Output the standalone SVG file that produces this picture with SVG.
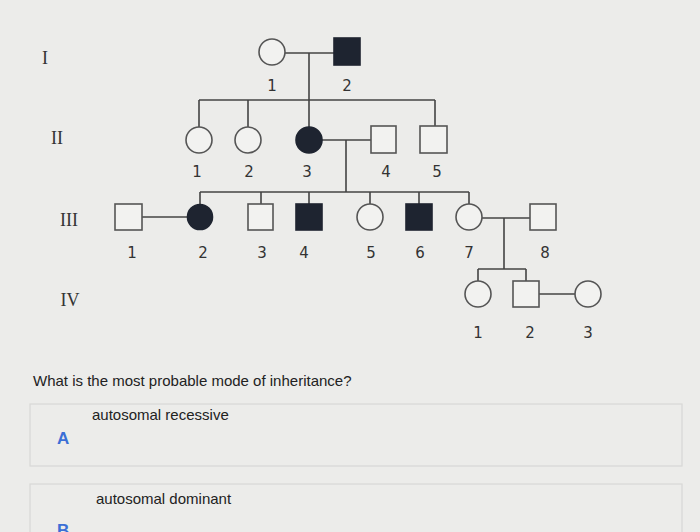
<svg xmlns="http://www.w3.org/2000/svg" width="700" height="532" viewBox="0 0 700 532">
<style>
.ln{stroke:#444;stroke-width:1.6;fill:none}
.o{fill:#f2f2f0;stroke:#555;stroke-width:1.6}
.f{fill:#1e2430;stroke:#1e2430;stroke-width:1.6}
.n{font-family:"DejaVu Sans",sans-serif;font-size:15px;fill:#333;text-anchor:middle}
.r{font-family:"Liberation Serif",serif;font-size:18px;fill:#333;text-anchor:middle}
.q{font-family:"Liberation Sans",sans-serif;font-size:15px;fill:#222}
.opt{fill:none;stroke:#d8d8d6;stroke-width:1.2}
</style>
<rect width="700" height="532" fill="#ececea"/>
<text class="r" x="45" y="64">I</text>
<text class="r" x="57" y="144">II</text>
<text class="r" x="69" y="226">III</text>
<text class="r" x="70" y="306">IV</text>
<g id="connectors" class="ln">
<path d="M285 53H334M309 53V127M199 100H435M199 100V127M248 100V127M435 100V126"/>
<path d="M322 140H371M346 140V192M200 192H469M200 192V204M261 192V204M309 192V204M370 192V204M419 192V204M469 192V204"/>
<path d="M142 217H187M482 218H530M504 218V269M478 269H526M478 269V281M526 269V281M539 294H575"/>
</g>
<g id="I1"><circle class="o" cx="272" cy="52" r="13"/><text class="n" x="272" y="91">1</text></g>
<g id="I2"><rect class="f" x="334" y="38" width="26" height="27"/><text class="n" x="347" y="91">2</text></g>
<g id="II1"><circle class="o" cx="199" cy="140" r="13"/><text class="n" x="197" y="177">1</text></g>
<g id="II2"><circle class="o" cx="248" cy="140" r="13"/><text class="n" x="249" y="177">2</text></g>
<g id="II3"><circle class="f" cx="309" cy="140" r="13"/><text class="n" x="307" y="177">3</text></g>
<g id="II4"><rect class="o" x="371" y="126" width="25" height="27"/><text class="n" x="386" y="177">4</text></g>
<g id="II5"><rect class="o" x="420" y="126" width="27" height="27"/><text class="n" x="437" y="177">5</text></g>
<g id="III1"><rect class="o" x="115" y="204" width="27" height="26"/><text class="n" x="132" y="258">1</text></g>
<g id="III2"><circle class="f" cx="200" cy="217" r="12.5"/><text class="n" x="203" y="258">2</text></g>
<g id="III3"><rect class="o" x="248" y="204" width="25" height="26"/><text class="n" x="262" y="258">3</text></g>
<g id="III4"><rect class="f" x="296" y="204" width="26" height="26"/><text class="n" x="304" y="258">4</text></g>
<g id="III5"><circle class="o" cx="370" cy="217" r="13"/><text class="n" x="371" y="258">5</text></g>
<g id="III6"><rect class="f" x="406" y="204" width="26" height="26"/><text class="n" x="420" y="258">6</text></g>
<g id="III7"><circle class="o" cx="469" cy="217" r="13"/><text class="n" x="469" y="258">7</text></g>
<g id="III8"><rect class="o" x="530" y="204" width="26" height="26"/><text class="n" x="545" y="258">8</text></g>
<g id="IV1"><circle class="o" cx="478" cy="294" r="13"/><text class="n" x="478" y="338">1</text></g>
<g id="IV2"><rect class="o" x="513" y="281" width="26" height="26"/><text class="n" x="530" y="338">2</text></g>
<g id="IV3"><circle class="o" cx="588" cy="294" r="13"/><text class="n" x="588" y="338">3</text></g>
<text class="q" x="33" y="386">What is the most probable mode of inheritance?</text>
<rect class="opt" x="30" y="404" width="652" height="62"/>
<text class="q" x="92" y="420" font-size="14">autosomal recessive</text>
<text x="57" y="444" font-family="Liberation Sans,sans-serif" font-size="17" font-weight="bold" fill="#3b6fd6">A</text>
<rect class="opt" x="30" y="484" width="652" height="60"/>
<text class="q" x="96" y="504" font-size="14">autosomal dominant</text>
<text x="57" y="536" font-family="Liberation Sans,sans-serif" font-size="17" font-weight="bold" fill="#3b6fd6">B</text>
</svg>
